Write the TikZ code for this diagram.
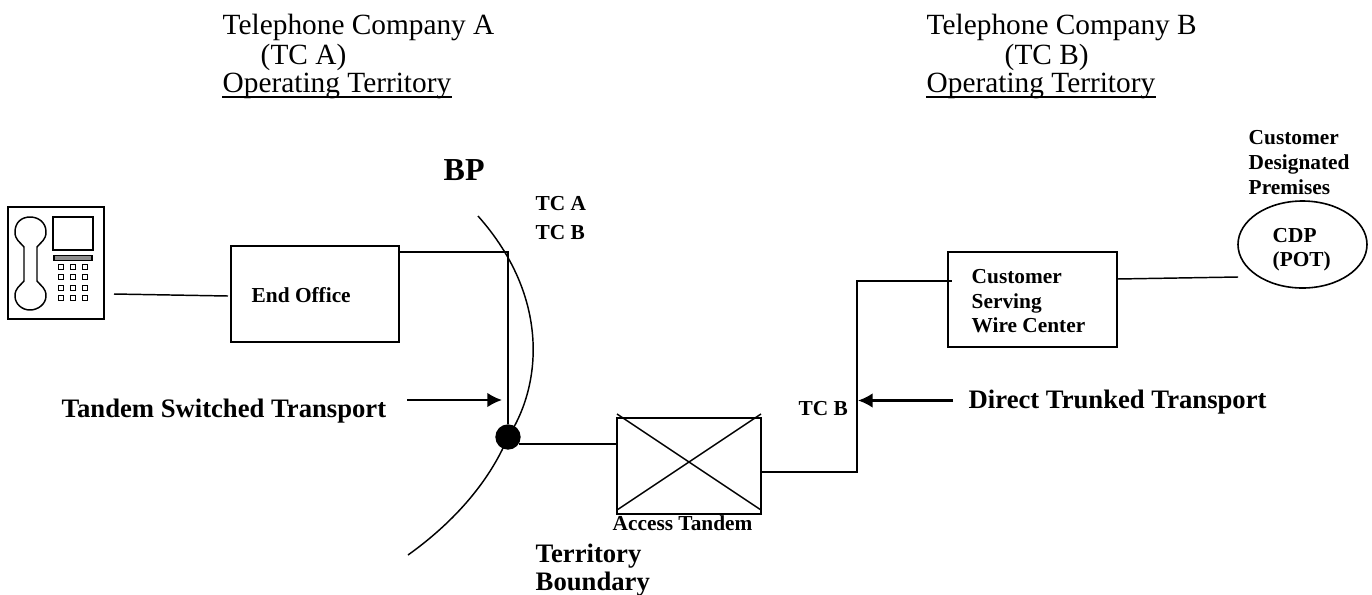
\documentclass[tikz,border=0pt]{standalone}
\usepackage{fontspec}
\setmainfont{Liberation Serif}
\usetikzlibrary{arrows}
\usetikzlibrary{arrows.meta}
\usetikzlibrary{shapes.geometric}
\tikzset{basic/.style={draw,line width=1.4pt,inner sep=0pt}}
\tikzset{territory/.style={anchor=base west,inner sep=0pt,font=\fontsize{22}{24}\selectfont}}
\tikzset{caption/.style={anchor=base west,inner sep=0pt,font=\fontsize{20}{22}\selectfont\bfseries}}
\tikzset{small/.style={anchor=base west,inner sep=0pt,font=\fontsize{16}{18}\selectfont\bfseries}}
\tikzset{pointer/.style={-{Latex[length=11pt,width=11pt]},line width=1.7pt}}
\begin{document}
\begin{tikzpicture}[>=latex,x=0.75pt,y=-0.75pt,line width=1.1pt]
	\tikzstyle{key}=[draw,line width=1.4pt,minimum size=3.7pt,inner sep=0pt]
	\useasboundingbox (0,0) rectangle (1372,594);

	% Operating territories on top:
	\node (tc_a_name) [territory] at (222,34) {Telephone Company A};
	\node (tc_a_short) [territory] at (260,64) {(TC A)};
	\node (tc_a_op) [territory] at (222,92) {Operating Territory};
	\node (tc_b_name) [territory] at (926,34) {Telephone Company B};
	\node (tc_b_short) [territory] at (1004,64) {(TC B)};
	\node (tc_b_op) [territory] at (926,92) {Operating Territory};
	\draw[line width=1.5pt] ([yshift=1.4pt]tc_a_op.south west) -- ([yshift=1.4pt]tc_a_op.south east);
	\draw[line width=1.5pt] ([yshift=1.4pt]tc_b_op.south west) -- ([yshift=1.4pt]tc_b_op.south east);

	% The telephone set:
	\node (phone) [basic,minimum width=72pt,minimum height=84pt] at (56,263) {};
	\node (screen) [basic,minimum width=30pt,minimum height=25pt] at (73,233.5) {};
	\node (bar) [draw,line width=0.9pt,fill=black!45,minimum width=28.5pt,minimum height=3.5pt,inner sep=0pt] at (73,258) {};
	\foreach \row/\ky in {1/267,2/277,3/288,4/298}
		\foreach \col/\kx in {1/61,2/73,3/85}
			\node (key_\row_\col) [key] at (\kx,\ky) {};
	\draw[line width=1.1pt] (24,247) .. controls (20,242) and (15,240) .. (15,232)
		.. controls (15,222) and (22,217) .. (30,217)
		.. controls (38,217) and (46,222) .. (46,232)
		.. controls (46,240) and (41,242) .. (37,247)
		-- (37,281)
		.. controls (41,286) and (46,288) .. (46,296)
		.. controls (46,304) and (38,310) .. (30,310)
		.. controls (22,310) and (15,304) .. (15,296)
		.. controls (15,288) and (20,286) .. (24,281)
		-- cycle;

	% Offices and switches:
	\node (end_office) [basic,minimum width=126pt,minimum height=72pt] at (315,294) {};
	\node (access_tandem) [basic,minimum width=108pt,minimum height=72pt] at (689,466) {};
	\node (wire_center) [basic,minimum width=126.75pt,minimum height=71.25pt] at (1032.5,299.5) {};
	\node (cdp) [draw,ellipse,line width=1.2pt,minimum width=96.75pt,minimum height=65.25pt,inner sep=0pt] at (1302.5,244.5) {};
	\node (bp_dot) [circle,fill=black,minimum size=19pt,inner sep=0pt] at (508,437) {};

	% Free ends and bends of the connectors:
	\coordinate (phone_end) at (114,294);
	\coordinate (eo_end) at (228,296);
	\coordinate (eo_out) at (399,252);
	\coordinate (bp_bend) at (508,252);
	\coordinate (tandem_in) at (617,444);
	\coordinate (tandem_out) at (761,472);
	\coordinate (tb_low) at (857,472);
	\coordinate (tb_high) at (857,281);
	\coordinate (wc_in) at (952,281);
	\coordinate (wc_out) at (1117,279);
	\coordinate (cdp_in) at (1238,277);
	\coordinate (dot_east) at (519,444);
	\coordinate (tst_start) at (407,400);
	\coordinate (tst_end) at (502,400);
	\coordinate (dtt_start) at (953,400.5);
	\coordinate (dtt_end) at (858,400.5);
	\coordinate (cross_nw) at (617,414);
	\coordinate (cross_se) at (761,510);
	\coordinate (cross_sw) at (617,510);
	\coordinate (cross_ne) at (761,414);

	% The territory boundary:
	\draw (478,216) .. controls (550,297) and (542,385) .. (508,437)
		.. controls (488,485) and (450,525) .. (408,555);

	% The diagram elements are now connected:
	\draw (phone_end) -- (eo_end);
	\draw (eo_out) -- (bp_bend) -- (bp_dot);
	\draw (dot_east) -- (tandem_in);
	\draw (tandem_out) -- (tb_low) -- (tb_high) -- (wc_in);
	\draw (wc_out) -- (cdp_in);
	\draw[pointer] (tst_start) -- (tst_end);
	\draw[pointer] (dtt_start) -- (dtt_end);
	\draw (cross_nw) -- (cross_se);
	\draw (cross_sw) -- (cross_ne);

	% Labels:
	\node (bp_label) [anchor=base west,inner sep=0pt,font=\fontsize{24}{26}\selectfont\bfseries] at (443,180) {BP};
	\node (tc_a_label) [small] at (535,210) {TC A};
	\node (tc_b_label) [small] at (535,239) {TC B};
	\node (tc_b_label2) [small] at (798,415) {TC B};
	\node (eo_label) [small] at (251,302) {End Office};
	\node (tandem_label) [small] at (612,530) {Access Tandem};
	\node (wc_label1) [small] at (971,283) {Customer};
	\node (wc_label2) [small] at (971,308) {Serving};
	\node (wc_label3) [small] at (971,332) {Wire Center};
	\node (cdp_label1) [small] at (1272,242) {CDP};
	\node (cdp_label2) [small] at (1272,266) {(POT)};
	\node (prem_label1) [small] at (1248,144) {Customer};
	\node (prem_label2) [small] at (1248,169) {Designated};
	\node (prem_label3) [small] at (1248,194) {Premises};
	\node (tst_label) [caption] at (61,417) {Tandem Switched Transport};
	\node (dtt_label) [caption] at (968,408) {Direct Trunked Transport};
	\node (tb_label1) [caption] at (535,562) {Territory};
	\node (tb_label2) [caption] at (535,590) {Boundary};
\end{tikzpicture}
\end{document}
